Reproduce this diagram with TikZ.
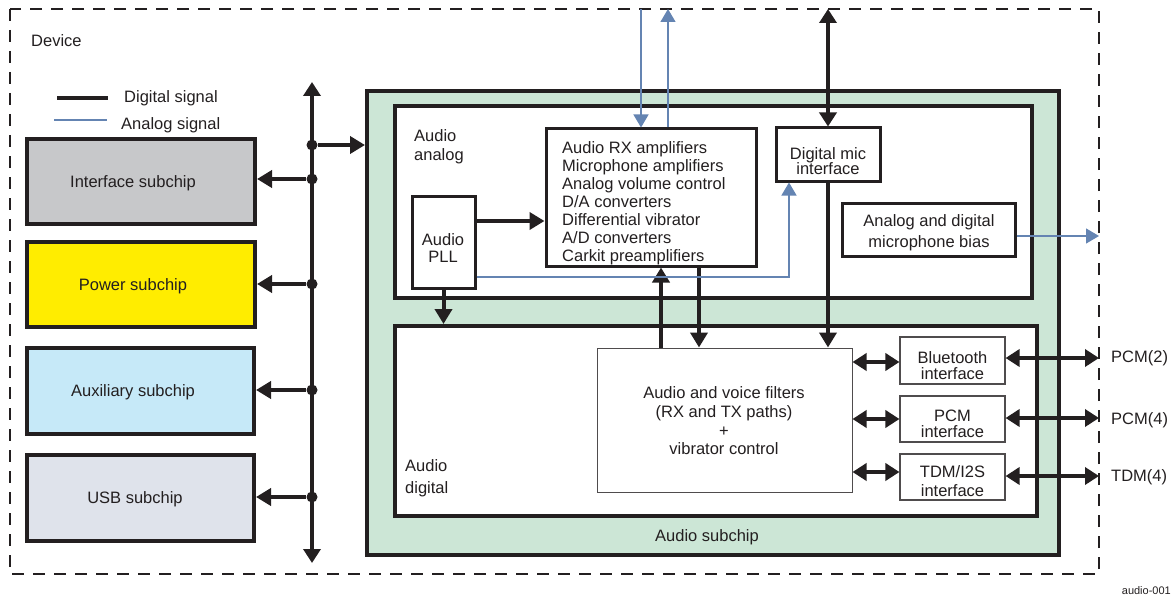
\documentclass[tikz,border=0pt]{standalone}
\usepackage{fontspec}
\setmainfont{Liberation Sans}
\usetikzlibrary{arrows.meta}
\definecolor{ink}{RGB}{35,31,32}
\definecolor{ablue}{RGB}{100,132,178}
\definecolor{gfill}{RGB}{204,230,214}
\definecolor{ifill}{RGB}{199,200,202}
\definecolor{pfill}{RGB}{255,237,0}
\definecolor{xfill}{RGB}{198,233,248}
\definecolor{ufill}{RGB}{223,227,235}
\begin{document}
\begin{tikzpicture}[x=1pt,y=-1pt,
  font=\fontsize{16.5}{18}\selectfont, text=ink,
  thickbox/.style={draw=ink, line width=4pt, inner sep=0pt},
  midbox/.style={draw=ink, line width=3pt, inner sep=0pt, fill=white},
  thinbox/.style={draw=ink!80, line width=1.1pt, fill=white, inner sep=0pt},
  txt/.style={inner sep=0pt, align=center},
  lbl/.style={inner sep=0pt, anchor=west, align=left},
  dot/.style={circle, fill=ink, inner sep=0pt, minimum size=11pt},
  digi/.style={draw=ink, line width=4pt, -{Triangle[length=15pt,width=17pt]}},
  dbl/.style={draw=ink, line width=4pt, {Triangle[length=14pt,width=17pt]}-{Triangle[length=14pt,width=17pt]}},
  ana/.style={draw=ablue, line width=1.3pt, -{Triangle[length=13pt,width=15pt]}}]
\useasboundingbox (0,0) rectangle (1172,599);
% device border
\draw[ink, line width=2pt, dash pattern=on 12pt off 9pt] (10,9) rectangle (1099,574);
\node[lbl] (devlbl) at (31,41) {Device};
% legend
\coordinate (lgA) at (57,98); \coordinate (lgB) at (108,98);
\draw[ink, line width=4pt] (lgA) -- (lgB);
\node[lbl] (lgDtxt) at (124,98) {Digital signal};
\coordinate (lgC) at (54,120); \coordinate (lgD) at (107,120);
\draw[ablue, line width=1.3pt] (lgC) -- (lgD);
\node[lbl] (lgAtxt) at (121,125) {Analog signal};
% left subchips
\node[thickbox, fill=ifill, minimum width=228pt, minimum height=85pt] (iface) at (141,181.5) {};
\node[txt] (ifacetxt) at (133,183) {Interface subchip};
\node[thickbox, fill=pfill, minimum width=228pt, minimum height=85pt] (power) at (141,284.5) {};
\node[txt] (powertxt) at (133,286) {Power subchip};
\node[thickbox, fill=xfill, minimum width=227pt, minimum height=86pt] (aux) at (140.5,391) {};
\node[txt] (auxtxt) at (133,392) {Auxiliary subchip};
\node[thickbox, fill=ufill, minimum width=227pt, minimum height=86pt] (usb) at (140.5,498) {};
\node[txt] (usbtxt) at (135,499) {USB subchip};
% audio subchip
\node[thickbox, fill=gfill, minimum width=692pt, minimum height=464pt] (green) at (713,323) {};
\node[txt] (greenlbl) at (707,537) {Audio subchip};
\node[thickbox, fill=white, minimum width=637pt, minimum height=192pt] (analog) at (713.5,202) {};
\node[thickbox, fill=white, minimum width=642pt, minimum height=190pt] (dig) at (716,421) {};
\node[lbl, font=\fontsize{16.5}{19}\selectfont] (anlbl) at (414,147) {Audio\\analog};
\node[lbl, font=\fontsize{16.5}{22}\selectfont] (diglbl) at (405,478) {Audio\\digital};
% analog contents
\node[midbox, minimum width=210pt, minimum height=137pt] (amps) at (651,197.5) {};
\node[inner sep=0pt, anchor=north west, align=left, font=\fontsize{16.5}{18.1}\selectfont] (ampstxt) at (562,141)
  {Audio RX amplifiers\\Microphone amplifiers\\Analog volume control\\D/A converters\\Differential vibrator\\A/D converters\\Carkit preamplifiers};
\node[midbox, minimum width=63pt, minimum height=92pt] (pll) at (443.5,242) {};
\node[txt, font=\fontsize{16.5}{17}\selectfont] (plltxt) at (443,248) {Audio\\PLL};
\node[midbox, minimum width=104pt, minimum height=53pt] (dmic) at (828,154.5) {};
\node[txt, font=\fontsize{16.5}{15.5}\selectfont] (dmictxt) at (828,161) {Digital mic\\interface};
\node[midbox, minimum width=173pt, minimum height=53pt] (bias) at (928.5,229.5) {};
\node[txt, font=\fontsize{16.5}{21}\selectfont] (biastxt) at (929,233) {Analog and digital\\microphone bias};
% digital contents
\node[draw=ink!80, line width=1pt, fill=white, minimum width=255pt, minimum height=144pt] (filt) at (724.5,420) {};
\node[txt, font=\fontsize{16.5}{18.7}\selectfont] (filttxt) at (724,421)
  {Audio and voice filters\\(RX and TX paths)\\+\\vibrator control};
\node[thinbox, minimum width=105pt, minimum height=47pt] (bt) at (952.5,360.5) {};
\node[txt, font=\fontsize{16.5}{16}\selectfont] (bttxt) at (952.5,366) {Bluetooth\\interface};
\node[thinbox, minimum width=105pt, minimum height=46pt] (pcm) at (952.5,419) {};
\node[txt, font=\fontsize{16.5}{16}\selectfont] (pcmtxt) at (952.5,424) {PCM\\interface};
\node[thinbox, minimum width=105pt, minimum height=46pt] (tdm) at (952.5,477) {};
\node[txt, font=\fontsize{16.5}{19}\selectfont] (tdmtxt) at (952.5,481) {TDM/I2S\\interface};
% right labels
\coordinate (r1) at (1099,358);
\coordinate (r2) at (1099,418);
\coordinate (r3) at (1099,476);
\coordinate (s1) at (0,362);
\coordinate (s2) at (0,419);
\coordinate (s3) at (0,472);
\node[lbl] (l1) at (1111,358) {PCM(2)};
\node[lbl] (l2) at (1111,420) {PCM(4)};
\node[lbl] (l3) at (1111,477) {TDM(4)};
\node[inner sep=0pt, anchor=east, font=\fontsize{11}{13}\selectfont] (fig) at (1171,591) {audio-001};
% bus
\coordinate (bustop) at (312,82);
\coordinate (busbot) at (312,563);
\draw[dbl] (busbot) -- (bustop);
\node[dot] (d0) at (312,145) {};
\node[dot] (d1) at (312,179) {};
\node[dot] (d2) at (312,284) {};
\node[dot] (d3) at (312,390) {};
\node[dot] (d4) at (312,497) {};
\draw[digi] (d0) -- (d0 -| green.west);
\draw[digi] (d1) -- (d1 -| iface.east);
\draw[digi] (d2) -- (d2 -| power.east);
\draw[digi] (d3) -- (d3 -| aux.east);
\draw[digi] (d4) -- (d4 -| usb.east);
% analog internal arrows
\coordinate (ypll) at (0,221);
\draw[digi] (pll.east |- ypll) -- (amps.west |- ypll);
\draw[digi] (pll.south) -- (pll.south |- dig.north);
\coordinate (xup) at (661,0);
\coordinate (xdn) at (699,0);
\draw[digi] (filt.north -| xup) -- (amps.south -| xup);
\draw[digi] (amps.south -| xdn) -- (filt.north -| xdn);
\draw[digi] (dmic.south) -- (dmic.south |- filt.north);
\coordinate (topC) at (828,9);
\draw[dbl] (topC) -- (dmic.north);
% analog signals
\coordinate (topA) at (641,9);
\coordinate (topB) at (668,9);
\draw[ana] (topA) -- (topA |- amps.north);
\draw[ana] (topB |- amps.north) -- (topB);
\coordinate (xm) at (789,0);
\coordinate (yblue) at (0,277);
\draw[ana] (pll.east |- yblue) -| (xm |- dmic.south);
\coordinate (biasout) at (1099,236);
\draw[ana] (bias.east |- biasout) -- (biasout);
% interface arrows
\draw[dbl] (filt.east |- s1) -- (bt.west |- s1);
\draw[dbl] (filt.east |- s2) -- (pcm.west |- s2);
\draw[dbl] (filt.east |- s3) -- (tdm.west |- s3);
\draw[dbl] (bt.east |- r1) -- (r1);
\draw[dbl] (pcm.east |- r2) -- (r2);
\draw[dbl] (tdm.east |- r3) -- (r3);
\end{tikzpicture}
\end{document}
